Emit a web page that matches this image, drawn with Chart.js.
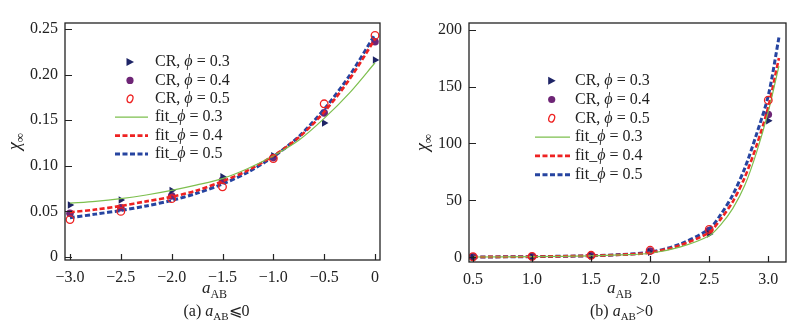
<!DOCTYPE html>
<html>
<head>
<meta charset="UTF-8">
<title>chi vs aAB</title>
<style>
  body { margin: 0; background: #fff; }
  .wrap { position: relative; width: 810px; height: 335px; }
  #c1 { position: absolute; left: 0; top: 0; }
  #c2 { position: absolute; left: 400px; top: 0; }
</style>
</head>
<body>
<div class="wrap">
  <canvas id="c1" width="400" height="335"></canvas>
  <canvas id="c2" width="410" height="335"></canvas>
</div>
<script src="https://cdn.jsdelivr.net/npm/chart.js"></script>
<script>
// (a) a_AB <= 0
const xCrA = [-3, -2.5, -2, -1.5, -1, -0.5, 0];
const cr03A = [0.057, 0.0625, 0.073, 0.088, 0.111, 0.147, 0.216];
const cr04A = [0.048, 0.054, 0.067, 0.084, 0.109, 0.158, 0.236];
const cr05A = [0.041, 0.050, 0.064, 0.077, 0.108, 0.168, 0.243];
const xFitA = [-3, -2.75, -2.5, -2.25, -2, -1.75, -1.5, -1.25, -1, -0.75, -0.5, -0.25, 0];
const fit03A = [0.059, 0.061, 0.064, 0.068, 0.073, 0.079, 0.086, 0.097, 0.111, 0.128, 0.152, 0.180, 0.213];
const fit04A = [0.049, 0.052, 0.056, 0.061, 0.066, 0.073, 0.083, 0.095, 0.111, 0.131, 0.159, 0.195, 0.239];
const fit05A = [0.043, 0.047, 0.051, 0.056, 0.062, 0.070, 0.080, 0.093, 0.110, 0.132, 0.162, 0.199, 0.244];
const xTicksA = [-3, -2.5, -2, -1.5, -1, -0.5, 0];
const yTicksA = [0, 0.05, 0.10, 0.15, 0.20, 0.25];

// (b) a_AB > 0
const xCrB = [0.5, 1.0, 1.5, 2.0, 2.5, 3.0];
const cr03B = [0.3, 0.5, 1.2, 4.5, 20.5, 120];
const cr04B = [0.4, 0.6, 1.5, 5.5, 23.5, 125.5];
const cr05B = [0.5, 0.8, 1.8, 6.2, 24.5, 138];
const xFitB = [0.5, 1.0, 1.5, 1.75, 2.0, 2.25, 2.5, 2.6, 2.7, 2.8, 2.9, 3.0, 3.09];
const fit03B = [0.3, 0.6, 1.3, 2.1, 3.6, 9, 19, 29, 43, 63, 92, 128, 168];
const fit04B = [0.3, 0.6, 1.4, 2.3, 4.1, 10.5, 22, 34, 49, 70, 98, 132, 175];
const fit05B = [0.3, 0.6, 1.4, 2.4, 4.6, 11.5, 25, 38, 55, 78, 108, 142, 193];
const xTicksB = [0.5, 1.0, 1.5, 2.0, 2.5, 3.0];
const yTicksB = [0, 50, 100, 150, 200];

const phiLabels = ['0.3', '0.4', '0.5'];

const FONT = '"Liberation Serif", "DejaVu Serif", serif';
const NAVY = '#1e2466';
const PURPLE = '#6e2576';
const RED = '#ee2222';
const GREEN = '#7dbf4e';
const BLUE = '#2644a0';

function pts(xs, ys) {
  return xs.map((x, i) => ({ x: x, y: ys[i] }));
}

// runs: [text, style] ; style: n normal, i italic, s subscript
function drawRuns(ctx, runs, x, y, align, size) {
  const sub = Math.round(size * 0.7);
  const fontOf = (st) => (st === 'i' ? 'italic ' : '') + (st === 's' ? sub : size) + 'px ' + FONT;
  let w = 0;
  runs.forEach(r => { ctx.font = fontOf(r[1]); w += ctx.measureText(r[0]).width; });
  let cx = align === 'center' ? x - w / 2 : x;
  ctx.textAlign = 'left';
  ctx.textBaseline = 'middle';
  runs.forEach(r => {
    ctx.font = fontOf(r[1]);
    ctx.fillText(r[0], cx, r[1] === 's' ? y + size * 0.32 : y);
    cx += ctx.measureText(r[0]).width;
  });
}

function drawMarker(ctx, kind, x, y) {
  ctx.save();
  if (kind === 0) {
    ctx.fillStyle = NAVY;
    ctx.beginPath();
    ctx.moveTo(x + 4, y); ctx.lineTo(x - 3.5, y - 4); ctx.lineTo(x - 3.5, y + 4);
    ctx.closePath(); ctx.fill();
  } else if (kind === 1) {
    ctx.fillStyle = PURPLE;
    ctx.beginPath(); ctx.arc(x, y, 3.6, 0, Math.PI * 2); ctx.fill();
  } else {
    ctx.strokeStyle = RED; ctx.lineWidth = 1.3;
    ctx.beginPath(); ctx.ellipse(x, y, 2.8, 3.9, 0.35, 0, Math.PI * 2); ctx.stroke();
  }
  ctx.restore();
}

const framePlugin = {
  id: 'frame',
  afterDraw(chart, args, opts) {
    const ctx = chart.ctx;
    const a = chart.chartArea;
    const xs = chart.scales.x, ys = chart.scales.y;
    ctx.save();
    ctx.strokeStyle = '#222';
    ctx.lineWidth = 1.3;
    ctx.strokeRect(a.left, a.top, a.right - a.left, a.bottom - a.top);
    ctx.lineWidth = 1.2;
    ctx.beginPath();
    opts.xTicks.forEach(v => {
      const px = Math.round(xs.getPixelForValue(v)) + 0.5;
      ctx.moveTo(px, a.bottom); ctx.lineTo(px, a.bottom - 6);
    });
    opts.yTicks.forEach(v => {
      const py = Math.round(ys.getPixelForValue(v)) + 0.5;
      ctx.moveTo(a.left, py); ctx.lineTo(a.left + 7, py);
    });
    ctx.stroke();

    // legend
    const L = opts.legend;
    for (let i = 0; i < 3; i++) {
      const yy = L.y + i * L.gap;
      drawMarker(ctx, i, L.mx, yy);
      ctx.fillStyle = '#222';
      drawRuns(ctx, [['CR, ', 'n'], ['\u03d5', 'i'], [' = ' + phiLabels[i], 'n']], L.tx, yy, 'left', 16);
    }
    const styles = [[GREEN, 1.2, []], [RED, 2.6, [5, 2.5]], [BLUE, 3, [5, 2.5]]];
    for (let i = 0; i < 3; i++) {
      const yy = L.y + (i + 3) * L.gap;
      ctx.strokeStyle = styles[i][0];
      ctx.lineWidth = styles[i][1];
      ctx.setLineDash(styles[i][2]);
      ctx.beginPath(); ctx.moveTo(L.lx0, yy); ctx.lineTo(L.lx1, yy); ctx.stroke();
      ctx.setLineDash([]);
      ctx.fillStyle = '#222';
      drawRuns(ctx, [['fit_', 'n'], ['\u03d5', 'i'], [' = ' + phiLabels[i], 'n']], L.tx, yy, 'left', 16);
    }

    // axis titles and caption
    ctx.fillStyle = '#222';
    const cx = (a.left + a.right) / 2;
    drawRuns(ctx, [['a', 'i'], ['AB', 's']], cx - 8, 289, 'center', 17);
    drawRuns(ctx, opts.caption, cx - 6, 312, 'center', 16);
    ctx.save();
    ctx.translate(opts.yTitleX, (a.top + a.bottom) / 2);
    ctx.rotate(-Math.PI / 2);
    drawRuns(ctx, [['\u03c7', 'i'], ['\u221e', 's']], 0, 0, 'center', 18);
    ctx.restore();
    ctx.restore();
  }
};

function makeChart(id, cfg) {
  const datasets = [
    { data: pts(cfg.xFit, cfg.fit[0]), showLine: true, borderColor: GREEN, borderWidth: 1.2, pointRadius: 0, tension: 0.3, order: 1 },
    { data: pts(cfg.xFit, cfg.fit[1]), showLine: true, borderColor: RED, borderWidth: 2.6, borderDash: [5, 2.5], pointRadius: 0, tension: 0.3, order: 1 },
    { data: pts(cfg.xFit, cfg.fit[2]), showLine: true, borderColor: BLUE, borderWidth: 3, borderDash: [5, 2.5], pointRadius: 0, tension: 0.3, order: 1 },
    { data: pts(cfg.xCr, cfg.cr[0]), pointStyle: 'triangle', rotation: 90, pointRadius: 4.3, backgroundColor: NAVY, borderColor: NAVY, borderWidth: 0, order: 2 },
    { data: pts(cfg.xCr, cfg.cr[1]), pointStyle: 'circle', pointRadius: 3.8, backgroundColor: PURPLE, borderColor: PURPLE, borderWidth: 0, order: 2 },
    { data: pts(cfg.xCr, cfg.cr[2]), pointStyle: 'circle', pointRadius: 3.8, backgroundColor: 'rgba(0,0,0,0)', borderColor: RED, borderWidth: 1.3, order: 0 }
  ];
  return new Chart(document.getElementById(id), {
    type: 'scatter',
    data: { datasets: datasets },
    options: {
      responsive: false,
      animation: false,
      layout: { padding: cfg.padding },
      plugins: {
        legend: { display: false },
        tooltip: { enabled: false },
        frame: cfg.frame
      },
      scales: {
        x: {
          type: 'linear',
          min: cfg.xRange[0], max: cfg.xRange[1],
          afterBuildTicks: s => { s.ticks = cfg.xTicks.map(v => ({ value: v })); },
          afterFit: s => { s.height = cfg.xAxisH; },
          grid: { display: false, drawTicks: false },
          border: { display: false },
          ticks: {
            padding: 8, color: '#222', font: { family: FONT, size: 16 }, maxRotation: 0,
            callback: cfg.xFmt
          }
        },
        y: {
          type: 'linear',
          min: cfg.yRange[0], max: cfg.yRange[1],
          afterBuildTicks: s => { s.ticks = cfg.yTicks.map(v => ({ value: v })); },
          afterFit: s => { s.width = cfg.yAxisW; },
          grid: { display: false, drawTicks: false },
          border: { display: false },
          ticks: {
            padding: 7, color: '#222', font: { family: FONT, size: 16 },
            callback: cfg.yFmt
          }
        }
      }
    },
    plugins: [framePlugin]
  });
}

makeChart('c1', {
  xCr: xCrA, cr: [cr03A, cr04A, cr05A], xFit: xFitA, fit: [fit03A, fit04A, fit05A],
  xRange: [-3.049, 0.049], yRange: [-0.0033, 0.2566],
  xTicks: xTicksA, yTicks: yTicksA,
  xFmt: v => (v === 0 ? '0' : '\u2212' + Math.abs(v).toFixed(1)),
  yFmt: v => (v === 0 ? '0' : v.toFixed(2)),
  padding: { left: 0, right: 20, top: 23, bottom: 0 },
  xAxisH: 75, yAxisW: 65,
  frame: {
    xTicks: xTicksA, yTicks: yTicksA, yTitleX: 15,
    legend: { y: 62, gap: 18.4, mx: 130, tx: 155, lx0: 115, lx1: 148 },
    caption: [['(a) ', 'n'], ['a', 'i'], ['AB', 's'], ['\u2a7d0', 'n']]
  }
});

makeChart('c2', {
  xCr: xCrB, cr: [cr03B, cr04B, cr05B], xFit: xFitB, fit: [fit03B, fit04B, fit05B],
  xRange: [0.466, 3.15], yRange: [-4.1, 205.8],
  xTicks: xTicksB, yTicks: yTicksB,
  xFmt: v => v.toFixed(1),
  yFmt: v => String(v),
  padding: { left: 0, right: 24, top: 23, bottom: 0 },
  xAxisH: 73, yAxisW: 69,
  frame: {
    xTicks: xTicksB, yTicks: yTicksB, yTitleX: 23,
    legend: { y: 80.7, gap: 18.8, mx: 151.7, tx: 175, lx0: 135, lx1: 170 },
    caption: [['(b) ', 'n'], ['a', 'i'], ['AB', 's'], ['>0', 'n']]
  }
});
</script>
</body>
</html>
